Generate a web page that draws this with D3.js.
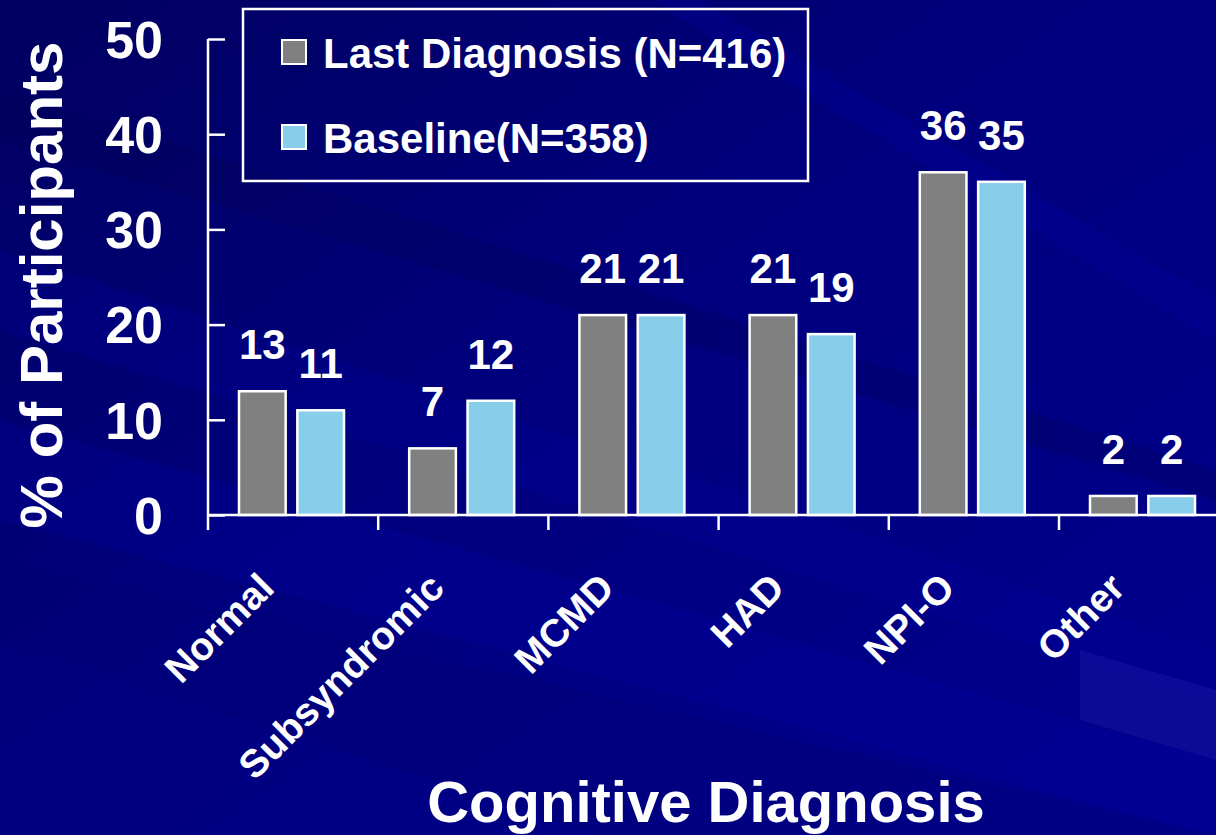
<!DOCTYPE html>
<html>
<head>
<meta charset="utf-8">
<script src="https://cdn.jsdelivr.net/npm/d3@7"></script>
<style>
html,body{margin:0;padding:0;background:#000080;overflow:hidden;}
svg{display:block;}
text{font-family:"Liberation Sans",Arial,sans-serif;font-weight:bold;fill:#fff;}
</style>
</head>
<body>
<svg id="chart" width="1216" height="835"></svg>
<script>
const categories = ["Normal","Subsyndromic","MCMD","HAD","NPI-O","Other"];
const seriesNames = ["Last Diagnosis (N=416)","Baseline(N=358)"];
const lastDiagnosis = [13,7,21,21,36,2];
const baseline = [11,12,21,19,35,2];
const yTicks = [0,10,20,30,40,50];
const seriesColors = ["#808080","#87CEEB"];

const svg = d3.select("#chart");
const W = 1216, H = 835;

// background
const defs = svg.append("defs");
const lg = defs.append("linearGradient").attr("id","bg").attr("x1","0").attr("y1","0").attr("x2","1").attr("y2","1");
lg.append("stop").attr("offset","0").attr("stop-color","#000060");
lg.append("stop").attr("offset","0.45").attr("stop-color","#00007e");
lg.append("stop").attr("offset","1").attr("stop-color","#00008e");
svg.append("rect").attr("width",W).attr("height",H).attr("fill","url(#bg)");
const streaks = [
  {p:[[0,250],[1216,650],[1216,700],[0,330]], c:"#0000a0", o:0.25},
  {p:[[0,420],[1216,760],[1216,835],[0,520]], c:"#0000a8", o:0.25},
  {p:[[0,90],[1216,470],[1216,500],[0,140]], c:"#000050", o:0.25},
  {p:[[0,560],[1216,835],[600,835],[0,640]], c:"#000070", o:0.3},
  {p:[[700,0],[1216,300],[1216,340],[650,0]], c:"#0000a0", o:0.3},
  {p:[[1080,650],[1216,690],[1216,760],[1080,720]], c:"#2020b0", o:0.35}
];
svg.selectAll("polygon.streak").data(streaks).enter().append("polygon")
  .attr("class","streak")
  .attr("points",d=>d.p.map(q=>q.join(",")).join(" "))
  .attr("fill",d=>d.c).attr("opacity",d=>d.o);

// scales
const x0 = 208, step = 170.2;
const x = d3.scaleBand().domain(categories).range([x0, x0 + step*categories.length]).padding(0);
const x1 = d3.scaleBand().domain([0,1]).range([31,136]).paddingInner(0.2);
const y = d3.scaleLinear().domain([0,50]).range([515,39]);

const data = categories.map((c,i)=>({cat:c, vals:[lastDiagnosis[i], baseline[i]]}));

// bars
const g = svg.append("g");
const groups = g.selectAll("g.cat").data(data).enter().append("g")
  .attr("transform",d=>`translate(${x(d.cat)},0)`);
groups.selectAll("rect").data(d=>d.vals.map((v,k)=>({v,k}))).enter().append("rect")
  .attr("x",d=>x1(d.k)).attr("width",x1.bandwidth())
  .attr("y",d=>y(d.v)).attr("height",d=>y(0)-y(d.v))
  .attr("fill",d=>seriesColors[d.k]).attr("stroke","#fff").attr("stroke-width",2.5);
groups.selectAll("text").data(d=>d.vals.map((v,k)=>({v,k}))).enter().append("text")
  .attr("x",d=>x1(d.k)+x1.bandwidth()/2).attr("y",d=>y(d.v)-32)
  .attr("text-anchor","middle").attr("font-size",42).text(d=>d.v);

// y axis
const yAxis = d3.axisRight(y).tickValues(yTicks).tickSize(17).tickFormat("");
const ya = svg.append("g").attr("transform",`translate(${x0},0)`).call(yAxis);
ya.select(".domain").remove();
ya.selectAll(".tick line").attr("stroke","#fff").attr("stroke-width",2.5);
svg.append("line").attr("x1",x0).attr("x2",x0).attr("y1",y(50)).attr("y2",y(0))
  .attr("stroke","#fff").attr("stroke-width",2.5);
svg.selectAll("text.ytick").data(yTicks).enter().append("text")
  .attr("class","ytick").attr("x",163).attr("y",d=>y(d)).attr("dy","0.36em")
  .attr("text-anchor","end").attr("font-size",52).text(d=>d);

// x axis
svg.append("line").attr("x1",x0).attr("x2",x0+step*categories.length).attr("y1",y(0)).attr("y2",y(0))
  .attr("stroke","#fff").attr("stroke-width",2.5);
const bounds = d3.range(categories.length).map(i=>x(categories[i]));
svg.selectAll("line.xtick").data(bounds).enter().append("line")
  .attr("x1",d=>d).attr("x2",d=>d).attr("y1",y(0)).attr("y2",y(0)+15)
  .attr("stroke","#fff").attr("stroke-width",2.5);
svg.selectAll("text.xlab").data(categories).enter().append("text")
  .attr("class","xlab").attr("font-size",39).attr("text-anchor","end")
  .attr("transform",d=>`translate(${x(d)+x.bandwidth()/2-17},590) rotate(-45)`)
  .text(d=>d);

// axis titles
svg.append("text").attr("transform","translate(62,285) rotate(-90)")
  .attr("text-anchor","middle").attr("font-size",60).text("% of Participants");
svg.append("text").attr("x",706).attr("y",822).attr("text-anchor","middle")
  .attr("font-size",58).text("Cognitive Diagnosis");

// legend
svg.append("rect").attr("x",243).attr("y",9).attr("width",565).attr("height",172)
  .attr("fill","none").attr("stroke","#fff").attr("stroke-width",2.5);
const leg = svg.selectAll("g.leg").data(seriesNames).enter().append("g")
  .attr("transform",(d,i)=>`translate(282,${40+i*85})`);
leg.append("rect").attr("width",24).attr("height",24)
  .attr("fill",(d,i)=>seriesColors[i]).attr("stroke","#fff").attr("stroke-width",2);
leg.append("text").attr("x",41).attr("y",28).attr("font-size",42).text(d=>d);
</script>
</body>
</html>
